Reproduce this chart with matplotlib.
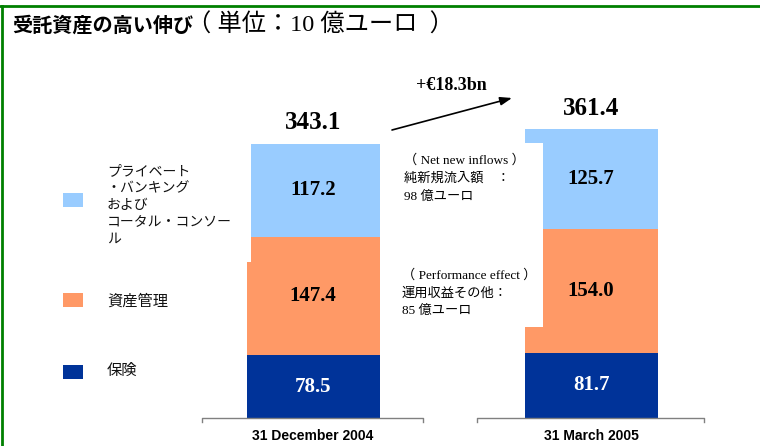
import matplotlib
matplotlib.use('Agg')
import matplotlib.pyplot as plt
from matplotlib.patches import Rectangle
from matplotlib.lines import Line2D

# ---- data ----
categories = ['31 December 2004', '31 March 2005']
series_names = ['保険', '資産管理', 'プライベート\n・バンキング\nおよび\nコータル・コンソー\nル']
insurance = [78.5, 81.7]
asset_mgmt = [147.4, 154.0]
private_banking = [117.2, 125.7]
totals = [343.1, 361.4]
change_label = '+€18.3bn'
note_inflows = ['（ Net new inflows ）', '純新規流入額　：', '98 億ユーロ']
note_perf = ['（ Performance effect ）', '運用収益その他：', '85 億ユーロ']
title_bold = '受託資産の高い伸び'
title_unit = '（ 単位：10 億ユーロ  ）'
colors = ['#003399', '#FF9966', '#99CCFF']

SERIF_JP = ['Liberation Serif', 'Noto Sans CJK JP']
JP = ['Noto Sans CJK JP', 'DejaVu Sans']

W, H = 760, 446
fig = plt.figure(figsize=(7.6, 4.46), dpi=100)
fig.patch.set_facecolor('white')


def fx(px):
    return px / W


def fy(py):
    return 1 - py / H


# ---- bars ----
ax = fig.add_axes([fx(202), fy(418), (704 - 202) / W, (418 - 98) / H])
x = [0, 1]
width = 0.478
series = [insurance, asset_mgmt, private_banking]
bottom = [0.0, 0.0]
for vals, c in zip(series, colors):
    ax.bar(x, vals, width, bottom=bottom, color=c, edgecolor='none')
    for xi, v, b in zip(x, vals, bottom):
        ax.text(xi, b + v / 2, f'{v:.1f}', ha='center', va='center',
                fontsize=15, fontweight='bold', family='Liberation Serif',
                color='white' if c == colors[0] else 'black', zorder=5)
    bottom = [b + v for b, v in zip(bottom, vals)]

for xi, t in zip(x, totals):
    ax.annotate(f'{t:.1f}', (xi, t), xytext=(0, 15), textcoords='offset points',
                ha='center', va='center', fontsize=18, fontweight='bold',
                family='Liberation Serif')

ax.set_xlim(-0.4, 1.406)
ax.set_ylim(0, 400)
for s in ax.spines.values():
    s.set_visible(False)
ax.set_yticks([])
ax.set_xticks(x, categories)
ax.tick_params(axis='x', length=0, pad=8)
for lab in ax.get_xticklabels():
    lab.set_fontsize(10)
    lab.set_fontweight('bold')
    lab.set_family('Liberation Sans')

# baseline segments with end ticks
tick = 4 / (418 - 98)
for x0, x1 in [(0.0, 0.44), (0.548, 1.0)]:
    ax.add_line(Line2D([x0, x0, x1, x1], [-tick, 0, 0, -tick], transform=ax.transAxes,
                       color='#808080', lw=1, clip_on=False))

# white cover boxes (text boxes of the original slide)
fig.add_artist(Rectangle((fx(395), fy(327)), (543 - 395) / W, (327 - 143) / H,
                         transform=fig.transFigure, facecolor='white',
                         edgecolor='none', zorder=1))
fig.add_artist(Rectangle((fx(238), fy(262)), (251 - 238) / W, (262 - 100) / H,
                         transform=fig.transFigure, facecolor='white',
                         edgecolor='none', zorder=1))

# arrow and change label
ax.annotate('', xy=(fx(512), fy(98)), xytext=(fx(392), fy(130)),
            xycoords='figure fraction', textcoords='figure fraction',
            arrowprops=dict(arrowstyle='-|>,head_length=0.7,head_width=0.25',
                            color='black', lw=1.2, shrinkA=0, shrinkB=0))
fig.text(fx(451), fy(86), change_label, ha='center', va='center', fontsize=13,
         fontweight='bold', family='Liberation Serif')

# notes
for lines, x0, ys in [(note_inflows, 404, [160, 178, 197]),
                      (note_perf, 402, [275, 293, 311])]:
    for ln, yy in zip(lines, ys):
        fig.text(fx(x0), fy(yy), ln, ha='left', va='center', fontsize=9.5,
                 family=SERIF_JP if ln.startswith(('（', '9', '8')) else JP, zorder=3)

# legend (manual)
legend_y = {0: 372, 1: 300, 2: 200}
label_y = {0: 370, 1: 301, 2: 171}
for i, (name, c) in enumerate(zip(series_names, colors)):
    yc = legend_y[i]
    fig.add_artist(Rectangle((fx(63), fy(yc + 7)), 20 / W, 14 / H,
                             transform=fig.transFigure, facecolor=c, edgecolor='none'))
    parts = name.split('\n')
    fs = 11 if len(parts) == 1 else 10
    for k, ln in enumerate(parts):
        fig.text(fx(107), fy(label_y[i] + 17 * k), ln, ha='left', va='center',
                 fontsize=fs, family=JP, color='#111111')

# title
t1 = fig.text(fx(12), fy(25), title_bold, ha='left', va='center', fontsize=14.5,
              fontweight='bold', family=JP)
renderer = fig.canvas.get_renderer()
bb = t1.get_window_extent(renderer)
fig.text((bb.x1 - 6) / W, fy(25), title_unit, ha='left', va='center', fontsize=17.5,
         family=SERIF_JP)

# green frame
fig.add_artist(Line2D([0, 1], [fy(6), fy(6)], transform=fig.transFigure,
                      color='#008000', lw=2))
fig.add_artist(Line2D([fx(1.5), fx(1.5)], [0, fy(6)], transform=fig.transFigure,
                      color='#008000', lw=2))

fig.savefig('out.png', dpi=100)
